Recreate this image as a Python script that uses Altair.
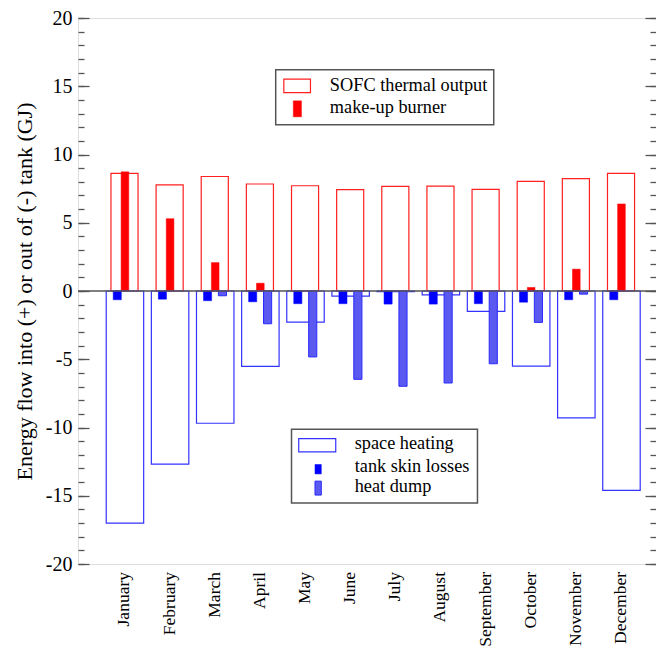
import altair as alt
import pandas as pd

# ---------------- data (GJ per month) ----------------
months = ["January", "February", "March", "April", "May", "June",
          "July", "August", "September", "October", "November", "December"]
sofc_output   = [8.61, 7.77, 8.39, 7.84, 7.71, 7.42, 7.66, 7.69, 7.44, 8.03, 8.23, 8.61]
makeup_burner = [8.73, 5.30, 2.08, 0.57, 0.0, 0.0, 0.0, 0.0, 0.0, 0.26, 1.60, 6.38]
space_heating = [-17.0, -12.69, -9.69, -5.52, -2.28, -0.38, -0.05, -0.28, -1.49, -5.50, -9.30, -14.61]
skin_losses   = [-0.64, -0.60, -0.71, -0.79, -0.93, -0.93, -0.96, -0.96, -0.93, -0.82, -0.64, -0.64]
heat_dump     = [0.0, 0.0, -0.35, -2.40, -4.83, -6.47, -6.98, -6.74, -5.33, -2.30, -0.23, 0.0]

y_major = list(range(-20, 21, 5))
y_minor = list(range(-20, 21, 1))

legend_top = ["SOFC thermal output", "make-up burner"]
legend_bottom = ["space heating", "tank skin losses", "heat dump"]

# ---------------- layout constants ----------------
W, H = 578, 546
XDOM = [-0.03, 12.775]
YDOM = [-20, 20]
FONT = "Liberation Serif"
FRAME = "#555555"

df = pd.DataFrame({
    "idx": list(range(1, 13)),
    "month": months,
    "sofc": sofc_output,
    "burner": makeup_burner,
    "space": space_heating,
    "skin": skin_losses,
    "dump": heat_dump,
})

xscale = alt.Scale(domain=XDOM, nice=False, zero=False)
yscale = alt.Scale(domain=YDOM, nice=False)

y_label_axis = alt.Axis(orient="left", values=y_major, ticks=False, domain=False, grid=False,
                        labelExpr="'' + datum.value", labelFont=FONT, labelFontSize=20,
                        labelColor="black", labelPadding=6,
                        title="Energy flow into (+) or out of (-) tank (GJ)",
                        titleFont=FONT, titleFontSize=22, titleFontWeight="normal",
                        titleColor="black", titlePadding=9)


def tick_axis(orient, values, size):
    return alt.Axis(orient=orient, offset=-W, values=values, tickSize=size, labels=False,
                    domain=False, grid=False, title=None, tickColor=FRAME, tickWidth=1.3)


def bar_layer(field, offset, width, fill, stroke, yaxis, sw=1.2):
    ch = alt.Chart(df).transform_filter(f"datum['{field}'] != 0").transform_calculate(
        x0=f"datum.idx + ({offset}) - {width / 2}",
        x1=f"datum.idx + ({offset}) + {width / 2}",
        zero="0",
    )
    return ch.mark_rect(fill=fill, stroke=stroke, strokeWidth=sw).encode(
        x=alt.X("x0:Q", scale=xscale, axis=None),
        x2="x1:Q",
        y=alt.Y(f"{field}:Q", scale=yscale, axis=yaxis),
        y2="zero:Q",
    )


sofc = bar_layer("sofc", 0.0, 0.60, "transparent", "#ff2020", y_label_axis)
burner = bar_layer("burner", 0.01, 0.17, "#ff0000", "#ff0000",
                   tick_axis("right", y_major, 11), sw=0.5)
space = bar_layer("space", 0.01, 0.83, "transparent", "#3333ff",
                  tick_axis("right", y_minor, 6))
skin = bar_layer("skin", -0.16, 0.18, "#0000ff", "#0000ff",
                 tick_axis("left", y_major, 11), sw=0.5)
dump = bar_layer("dump", 0.17, 0.18, "#5a5af0", "#2a2aff",
                 tick_axis("left", y_minor, 6), sw=1)

zero = alt.Chart(pd.DataFrame({"v": [0]})).mark_rule(color=FRAME, strokeWidth=1.5).encode(
    y=alt.Y("v:Q", scale=yscale, axis=None))

# month labels along the bottom (x from the same scale)
month_lbl = alt.Chart(df).mark_text(angle=270, align="right", baseline="middle", font=FONT,
                                    fontSize=17.5, color="black").encode(
    x=alt.X("idx:Q", scale=xscale, axis=None),
    y=alt.value(H + 8),
    text="month:N",
)

# ---------------- legends (in data coordinates) ----------------
leg_rects = pd.DataFrame({
    "x0": [4.35, 4.53, 4.74, 4.70, 4.86, 5.22, 5.22],
    "x1": [9.18, 5.12, 4.92, 8.82, 5.68, 5.36, 5.36],
    "y0": [16.2, 15.52, 13.93, -10.13, -10.81, -12.71, -13.93],
    "y1": [12.18, 14.54, 12.76, -15.54, -11.79, -13.40, -14.95],
    "fill": ["white", "white", "#ff0000", "white", "white", "#0000ff", "#5a5af0"],
    "stroke": [FRAME, "#ff2020", "#ff0000", FRAME, "#3333ff", "#0000ff", "#2a2aff"],
    "sw": [1.5, 1.2, 0.5, 1.5, 1.2, 0.5, 1.0],
})
leg_box = alt.Chart(leg_rects).mark_rect().encode(
    x=alt.X("x0:Q", scale=xscale, axis=None), x2="x1:Q",
    y=alt.Y("y0:Q", scale=yscale, axis=None), y2="y1:Q",
    fill=alt.Fill("fill:N", scale=None),
    stroke=alt.Stroke("stroke:N", scale=None),
    strokeWidth=alt.StrokeWidth("sw:Q", scale=None),
)

leg_text = pd.DataFrame({
    "x": [5.55, 5.55, 6.10, 6.10, 6.10],
    "y": [15.03, 13.37, -11.22, -12.93, -14.39],
    "t": legend_top + legend_bottom,
})
leg_lbl = alt.Chart(leg_text).mark_text(align="left", baseline="middle", font=FONT,
                                        fontSize=18.3, color="black").encode(
    x=alt.X("x:Q", scale=xscale, axis=None),
    y=alt.Y("y:Q", scale=yscale, axis=None),
    text="t:N",
)

chart = alt.layer(sofc, burner, space, skin, dump, zero, month_lbl, leg_box, leg_lbl).resolve_axis(
    y="independent"
).properties(
    width=W, height=H, autosize="none",
    padding={"left": 70, "top": 10, "right": 0, "bottom": 82},
).configure_view(stroke=FRAME, strokeWidth=1.5).configure(background="white")

chart.save("out.html", embed_options={"renderer": "svg", "actions": False})
